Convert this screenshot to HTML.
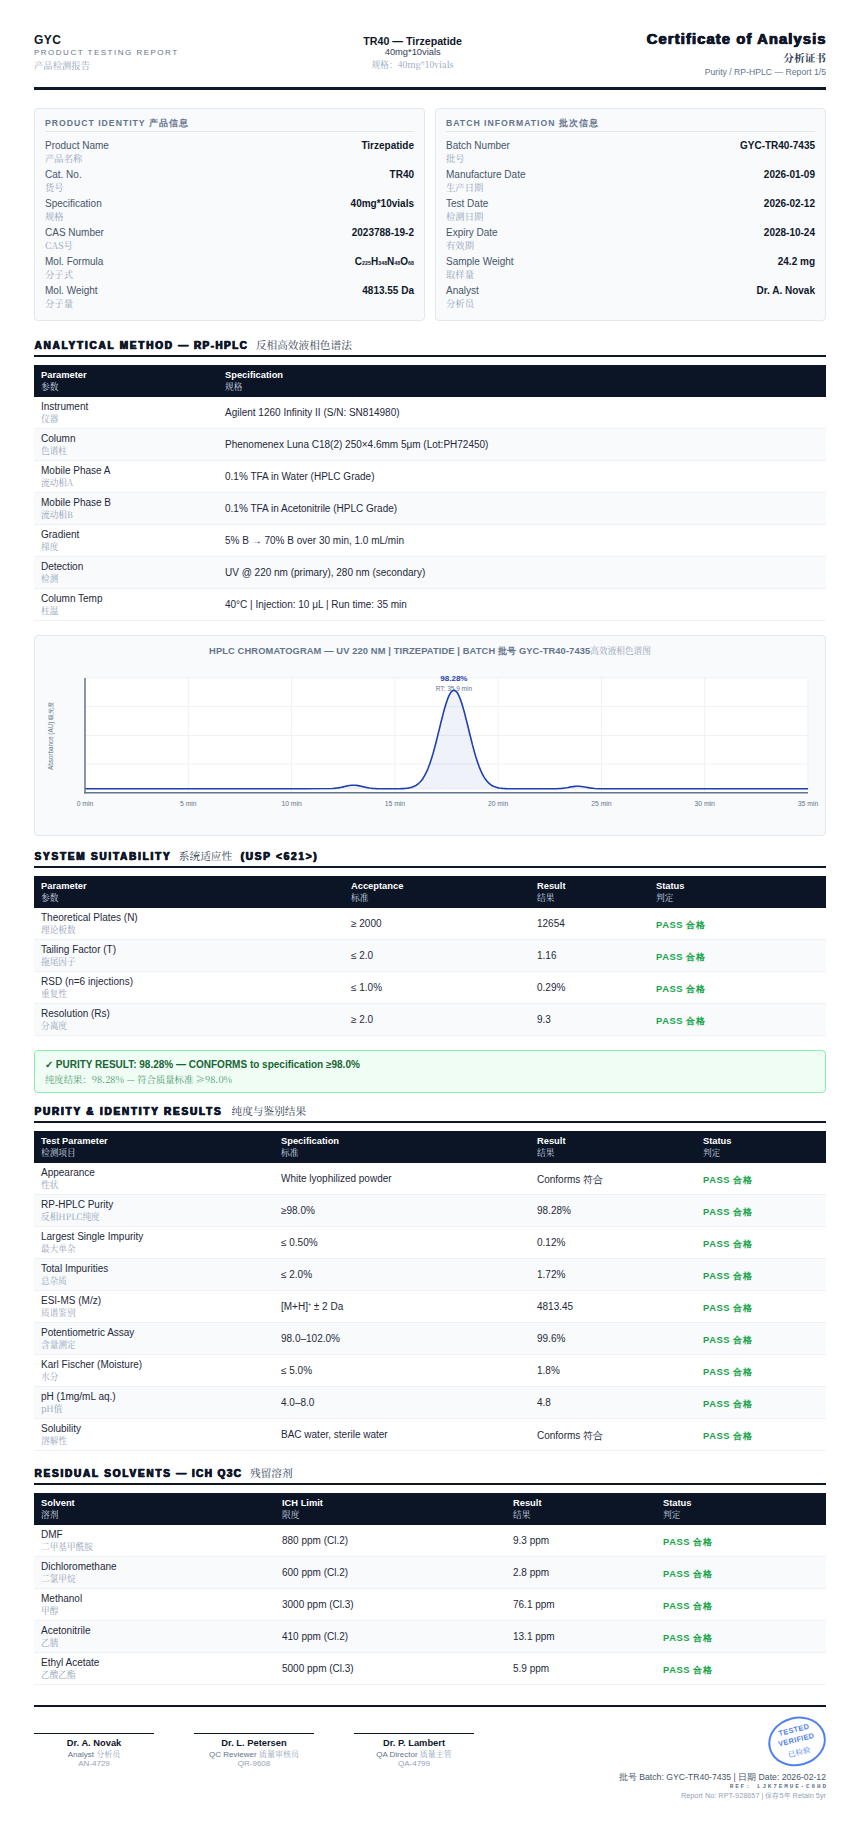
<!DOCTYPE html>
<html lang="en">
<head>
<meta charset="utf-8">
<title>Certificate of Analysis</title>
<style>
*{box-sizing:border-box;margin:0;padding:0}
html,body{width:860px;height:1828px;background:#fff;overflow:hidden}
body{position:relative;font-family:"Liberation Sans",sans-serif;color:#0f172a;font-size:10px;line-height:1.3}
.cn{font-family:"Noto Serif CJK SC","Noto Serif SC","Source Han Serif SC","Source Han Serif CN","Noto Serif CJK TC","Noto Serif CJK JP","Noto Serif CJK KR","Liberation Serif",serif}
.abs{position:absolute;left:34px;width:792px}
.hdr{top:30px;height:60px;display:flex;justify-content:space-between;align-items:flex-start;border-bottom:3px solid #0f172a}
.hdr .c{text-align:center;padding-top:5px}
.hdr .r{text-align:right}
.brand{font-size:12px;font-weight:700;letter-spacing:0.5px;line-height:15px;margin-top:3px;color:#0f172a}
.sub{font-size:8px;letter-spacing:1.5px;color:#64748b;line-height:10px}
.subcn{font-size:9.33px;color:#94a3b8;line-height:14px;margin-top:0}
.pname{font-size:10.67px;font-weight:700;line-height:13px}
.pspec{font-size:9.33px;color:#334155;line-height:10px;margin-top:-1px}
.pspeccn{font-size:8.67px;color:#94a3b8;line-height:14px;margin-top:0.4px}
.coa{font-size:14.67px;font-weight:700;line-height:17px;-webkit-text-stroke:0.5px #0f172a;text-shadow:0.45px 0 0 #0f172a,-0.45px 0 0 #0f172a;letter-spacing:1.15px;margin-right:-0.7px;padding-top:0.5px}
.coacn{font-size:10.67px;font-weight:700;color:#334155;line-height:15px;margin-top:2px}
.coasub{font-size:8.67px;color:#64748b;line-height:12px;margin-top:1px}
.cards{top:108px;height:213px;display:flex;gap:10px}
.card{flex:1;background:#f8fafc;border:1px solid #e2e8f0;border-radius:4px;padding:8px 10px 0 10px;height:213px}
.card h3{font-size:8.67px;font-weight:700;letter-spacing:1px;color:#64748b;text-transform:uppercase;border-bottom:1px solid #e2e8f0;padding-bottom:2px;line-height:12px;margin-bottom:6.6px}
.kv{display:flex;justify-content:space-between;height:29px}
.kv .k{font-size:10px;color:#475569;line-height:13px}
.kv .k .cn{display:block;font-size:9.33px;color:#94a3b8;line-height:12px}
.kv .v{font-size:10px;font-weight:700;color:#0f172a;line-height:13px}
.kv .v sub{font-size:5.33px;vertical-align:baseline;line-height:0}
h2{font-size:10px;font-weight:700;letter-spacing:1.78px;line-height:15px;height:20px;padding-left:0.6px;border-bottom:2px solid #0f172a;text-transform:uppercase;-webkit-text-stroke:0.4px #0f172a;text-shadow:0.45px 0 0 #0f172a,-0.45px 0 0 #0f172a;white-space:nowrap}
h2 .cn{font-weight:400;font-size:10.67px;letter-spacing:0;-webkit-text-stroke:0;text-shadow:none;color:#334155;margin-left:3px}
.dsh{letter-spacing:1.42px}
.usp{margin-left:4px}
table{border-collapse:collapse;table-layout:fixed}
th{background:#0b1526;color:#fff;text-align:left;font-size:9.33px;font-weight:700;padding:0 7px 1px 7px;height:32px;line-height:12px;vertical-align:middle}
th .cn{display:block;font-weight:400;font-size:8.67px;color:#cbd5e1;line-height:11px}
td{font-size:10px;padding:1.3px 7px 0 7px;height:32px;border-bottom:1px solid #eef2f6;vertical-align:middle;color:#1e293b;line-height:12px}
td .cn{display:block;font-size:8.67px;color:#94a3b8;line-height:11px;margin-top:0}
tr:nth-child(odd) td{background:#f8fafc}
tr:nth-child(2) td{height:31px;padding-top:1px}
td sup{font-size:5.33px;vertical-align:baseline;position:relative;top:-3.5px;line-height:0}
.dn{position:relative;top:1px}
.pass{color:#16a34a;font-weight:700;font-size:9.33px;letter-spacing:0.6px;position:relative;top:1px}
.chartcard{top:635px;height:201px;background:#f8fafc;border:1px solid #e2e8f0;border-radius:4px}
.ctitle{position:absolute;left:0;right:0;top:7.6px;text-align:center;font-size:9.33px;font-weight:700;color:#64748b;letter-spacing:0.11px;line-height:12px}
.ctitle .cn{font-weight:400;font-size:8.67px;color:#94a3b8;letter-spacing:0}
.chart{position:absolute;left:0;top:0;font-family:"Liberation Sans",sans-serif}
.result{top:1050px;height:43px;background:#f0fdf4;border:1px solid #86efac;border-radius:4px;padding:7px 10px}
.result .r1{font-size:10px;font-weight:700;color:#166534;line-height:13px}
.result .r2{font-size:9.33px;color:#4b9a70;line-height:14px;margin-top:1px}
.foot{top:1705px;border-top:2px solid #0f172a;height:120px}
.sigs{position:absolute;left:0;top:26px;display:flex;gap:40px}
.sig{width:120px;border-top:1px solid #0f172a;text-align:center;padding-top:2.8px}
.sn{font-size:9.33px;font-weight:700;line-height:12px}
.st{font-size:8px;color:#64748b;line-height:9.5px}
.st .cn{color:#94a3b8}
.si{font-size:8px;color:#94a3b8;line-height:9px}
.stamp{position:absolute;right:0.5px;top:10px;width:57.5px;height:48.5px;border:2px solid #2563eb;border-radius:50%;transform:rotate(-14deg);text-align:center;color:#2563eb;opacity:0.8;padding-top:5.7px;letter-spacing:0.4px}
.stamp .s1{font-size:7.33px;font-weight:700;line-height:10.8px}
.stamp .s2{font-size:7.33px;line-height:12px;margin-top:-0.3px;font-weight:500}
.fr{position:absolute;right:0;top:64px;text-align:right}
.f1{font-size:8.67px;color:#475569;line-height:12px}
.f2{font-family:"Liberation Mono",monospace;font-size:6px;font-weight:700;letter-spacing:1.85px;margin-right:-1.85px;color:#64748b;line-height:6px;margin-top:1px}
.f3{font-size:7.33px;color:#94a3b8;line-height:9px;margin-top:0.5px}
</style>
</head>
<body>
<div class="abs hdr">
  <div class="l"><div class="brand">GYC</div><div class="sub">PRODUCT TESTING REPORT</div><div class="subcn cn">产品检测报告</div></div>
  <div class="c"><div class="pname">TR40 — Tirzepatide</div><div class="pspec">40mg*10vials</div><div class="pspeccn cn">规格：40mg*10vials</div></div>
  <div class="r"><div class="coa">Certificate of Analysis</div><div class="coacn cn">分析证书</div><div class="coasub">Purity / RP-HPLC — Report 1/5</div></div>
</div>
<div class="abs cards"><div class="card"><h3>Product Identity 产品信息</h3><div class="kv"><div class="k">Product Name<span class="cn">产品名称</span></div><div class="v">Tirzepatide</div></div><div class="kv"><div class="k">Cat. No.<span class="cn">货号</span></div><div class="v">TR40</div></div><div class="kv"><div class="k">Specification<span class="cn">规格</span></div><div class="v">40mg*10vials</div></div><div class="kv"><div class="k">CAS Number<span class="cn">CAS号</span></div><div class="v">2023788-19-2</div></div><div class="kv"><div class="k">Mol. Formula<span class="cn">分子式</span></div><div class="v">C<sub>225</sub>H<sub>348</sub>N<sub>48</sub>O<sub>68</sub></div></div><div class="kv"><div class="k">Mol. Weight<span class="cn">分子量</span></div><div class="v">4813.55 Da</div></div></div><div class="card"><h3>Batch Information 批次信息</h3><div class="kv"><div class="k">Batch Number<span class="cn">批号</span></div><div class="v">GYC-TR40-7435</div></div><div class="kv"><div class="k">Manufacture Date<span class="cn">生产日期</span></div><div class="v">2026-01-09</div></div><div class="kv"><div class="k">Test Date<span class="cn">检测日期</span></div><div class="v">2026-02-12</div></div><div class="kv"><div class="k">Expiry Date<span class="cn">有效期</span></div><div class="v">2028-10-24</div></div><div class="kv"><div class="k">Sample Weight<span class="cn">取样量</span></div><div class="v">24.2 mg</div></div><div class="kv"><div class="k">Analyst<span class="cn">分析员</span></div><div class="v">Dr. A. Novak</div></div></div></div>
<h2 class="abs" style="top:337px">Analytical Method <span class="dsh">— RP-HPLC</span> <span class="cn">反相高效液相色谱法</span></h2>
<table id="t1" class="abs" style="top:365px"><colgroup><col style="width:184px"><col></colgroup>
<tr><th>Parameter<span class="cn">参数</span></th><th>Specification<span class="cn">规格</span></th></tr>
<tr><td>Instrument<span class="cn">仪器</span></td><td>Agilent 1260 Infinity II (S/N: SN814980)</td></tr>
<tr><td>Column<span class="cn">色谱柱</span></td><td>Phenomenex Luna C18(2) 250×4.6mm 5μm (Lot:PH72450)</td></tr>
<tr><td>Mobile Phase A<span class="cn">流动相A</span></td><td>0.1% TFA in Water (HPLC Grade)</td></tr>
<tr><td>Mobile Phase B<span class="cn">流动相B</span></td><td>0.1% TFA in Acetonitrile (HPLC Grade)</td></tr>
<tr><td>Gradient<span class="cn">梯度</span></td><td>5% B → 70% B over 30 min, 1.0 mL/min</td></tr>
<tr><td>Detection<span class="cn">检测</span></td><td>UV @ 220 nm (primary), 280 nm (secondary)</td></tr>
<tr><td>Column Temp<span class="cn">柱温</span></td><td>40°C | Injection: 10 μL | Run time: 35 min</td></tr>
</table>
<div class="abs chartcard"><div class="ctitle">HPLC CHROMATOGRAM — UV 220 NM | TIRZEPATIDE | BATCH 批号 GYC-TR40-7435<span class="cn">高效液相色谱图</span></div><svg class="chart" width="790" height="198" viewBox="0 0 790 198">
<rect x="50" y="42" width="723" height="114.8" fill="#fff"/>
<line x1="50" x2="773" y1="42.0" y2="42.0" stroke="#eef1f6"/>
<line x1="50" x2="773" y1="70.7" y2="70.7" stroke="#eef1f6"/>
<line x1="50" x2="773" y1="99.4" y2="99.4" stroke="#eef1f6"/>
<line x1="50" x2="773" y1="128.1" y2="128.1" stroke="#eef1f6"/>
<line x1="153.3" x2="153.3" y1="42" y2="156.8" stroke="#eef1f6"/>
<line x1="256.6" x2="256.6" y1="42" y2="156.8" stroke="#eef1f6"/>
<line x1="359.9" x2="359.9" y1="42" y2="156.8" stroke="#eef1f6"/>
<line x1="463.1" x2="463.1" y1="42" y2="156.8" stroke="#eef1f6"/>
<line x1="566.4" x2="566.4" y1="42" y2="156.8" stroke="#eef1f6"/>
<line x1="669.7" x2="669.7" y1="42" y2="156.8" stroke="#eef1f6"/>
<line x1="773.0" x2="773.0" y1="42" y2="156.8" stroke="#eef1f6"/>
<path d="M50.0,152.8 81.0,152.8 112.0,152.8 143.0,152.8 173.9,152.8 204.9,152.8 235.9,152.8 266.9,152.8 297.9,152.5 303.1,151.9 304.7,151.6 306.4,151.3 308.0,150.9 309.7,150.5 311.3,150.1 313.0,149.8 314.6,149.5 316.3,149.3 317.9,149.2 319.6,149.2 321.2,149.3 322.9,149.6 324.5,149.9 326.2,150.2 327.8,150.6 329.5,151.0 331.1,151.4 332.8,151.7 334.4,152.0 336.1,152.2 337.8,152.4 342.9,152.7 348.1,152.8 353.2,152.8 354.9,152.8 356.6,152.8 358.2,152.8 359.9,152.8 361.5,152.8 363.2,152.7 364.8,152.7 366.5,152.6 368.1,152.6 369.8,152.5 371.4,152.3 373.1,152.1 374.7,151.8 376.4,151.4 378.0,150.8 379.7,150.1 381.3,149.2 383.0,148.0 384.6,146.5 386.3,144.7 388.0,142.4 389.6,139.7 391.3,136.4 392.9,132.7 394.6,128.3 396.2,123.4 397.9,118.0 399.5,112.1 401.2,105.7 402.8,99.1 404.5,92.4 406.1,85.7 407.8,79.1 409.4,73.0 411.1,67.5 412.7,62.7 414.4,58.9 416.0,56.1 417.7,54.6 419.3,54.2 421.0,55.2 422.7,57.3 424.3,60.6 426.0,65.0 427.6,70.1 429.3,76.0 430.9,82.4 432.6,89.0 434.2,95.8 435.9,102.5 437.5,108.9 439.2,115.1 440.8,120.8 442.5,125.9 444.1,130.6 445.8,134.6 447.4,138.1 449.1,141.1 450.7,143.6 452.4,145.7 454.1,147.3 455.7,148.7 457.4,149.7 459.0,150.5 460.7,151.1 462.3,151.6 464.0,152.0 465.6,152.2 467.3,152.4 468.9,152.5 470.6,152.6 472.2,152.7 473.9,152.7 475.5,152.7 477.2,152.8 478.8,152.8 480.5,152.8 482.1,152.8 483.8,152.8 485.5,152.8 487.1,152.8 488.8,152.8 490.4,152.8 495.6,152.8 500.7,152.8 505.9,152.8 511.1,152.8 516.2,152.8 521.4,152.7 526.6,152.4 528.2,152.2 529.9,152.0 531.5,151.8 533.2,151.5 534.8,151.1 536.5,150.8 538.1,150.6 539.8,150.4 541.4,150.2 543.1,150.2 544.7,150.3 546.4,150.5 548.0,150.7 549.7,151.0 551.3,151.3 553.0,151.6 554.7,151.9 556.3,152.1 558.0,152.3 559.6,152.5 564.8,152.7 569.9,152.8 575.1,152.8 580.3,152.8 611.3,152.8 642.2,152.8 673.2,152.8 704.2,152.8 735.2,152.8 766.2,152.8 773.0,152.8 L773.0,152.8 L50.0,152.8Z" fill="#1e40af" fill-opacity="0.07"/>
<path d="M50.0,152.7 53.0,153.1 56.0,152.5 59.0,152.6 62.0,153.2 65.1,152.6 68.1,152.3 71.1,153.1 74.1,152.9 77.1,152.4 80.1,153.0 83.1,153.1 86.2,152.6 89.2,152.6 92.2,153.2 95.2,152.6 98.2,152.5 101.2,153.2 104.2,152.9 107.2,152.5 110.2,153.0 113.3,153.0 116.3,152.6 119.3,152.7 122.3,153.1 125.3,152.5 128.3,152.6 131.3,153.1 134.3,152.9 137.4,152.6 140.4,153.0 143.4,153.2 146.4,152.5 149.4,152.8 152.4,153.1 155.4,152.8 158.4,152.7 161.5,153.0 164.5,152.7 167.5,152.4 170.5,153.1 173.5,153.0 176.5,152.5 179.5,152.7 182.6,153.1 185.6,152.5 188.6,152.6 191.6,153.2 194.6,152.8 197.6,152.6 200.6,153.1 203.6,153.1 206.7,152.6 209.7,153.0 212.7,153.2 215.7,152.4 218.7,152.8 221.7,153.3 224.7,152.8 227.7,152.5 230.8,153.1 233.8,152.8 236.8,152.5 239.8,152.9 242.8,153.0 245.8,152.4 248.8,152.8 251.8,153.3 254.8,152.5 257.9,152.6 260.9,153.1 263.9,152.8 266.9,152.4 269.9,153.0 272.9,153.2 275.9,152.3 278.9,152.8 282.0,153.0 285.0,152.7 288.0,152.5 291.0,153.2 294.0,153.0 297.0,152.5 300.0,153.2 303.1,152.9 306.1,152.3 309.1,152.8 312.1,153.0 315.1,152.5 318.1,152.6 321.1,153.2 324.1,152.7 327.1,152.3 330.2,153.2 333.2,152.9 336.2,152.6 339.2,153.0 342.2,153.1 345.2,152.5 348.2,152.7 351.2,153.2 354.3,152.7 357.3,152.5 360.3,153.1 363.3,153.0 366.3,152.5 369.3,152.9 372.3,153.1 375.4,152.4 378.4,152.7 381.4,153.3 384.4,152.7 387.4,152.6 390.4,153.0 393.4,152.8 396.4,152.5 399.4,152.8 402.5,153.1 405.5,152.5 408.5,152.6 411.5,153.2 414.5,152.6 417.5,152.6 420.5,153.1 423.6,152.9 426.6,152.5 429.6,152.9 432.6,152.9 435.6,152.5 438.6,153.0 441.6,153.0 444.6,152.6 447.6,152.7 450.7,153.1 453.7,152.7 456.7,152.4 459.7,153.0 462.7,153.0 465.7,152.4 468.7,152.8 471.8,153.2 474.8,152.4 477.8,152.7 480.8,153.2 483.8,152.6 486.8,152.4 489.8,153.2 492.8,152.8 495.9,152.4 498.9,152.9 501.9,153.1 504.9,152.4 507.9,152.7 510.9,153.1 513.9,152.8 516.9,152.5 520.0,153.2 523.0,152.8 526.0,152.4 529.0,153.0 532.0,153.2 535.0,152.5 538.0,152.7 541.0,153.0 544.0,152.6 547.1,152.5 550.1,153.2 553.1,152.9 556.1,152.4 559.1,152.9 562.1,153.1 565.1,152.5 568.1,152.9 571.2,153.1 574.2,152.5 577.2,152.6 580.2,153.2 583.2,152.7 586.2,152.4 589.2,153.0 592.2,152.9 595.3,152.4 598.3,153.0 601.3,153.0 604.3,152.4 607.3,152.8 610.3,153.3 613.3,152.8 616.4,152.5 619.4,153.2 622.4,153.0 625.4,152.4 628.4,153.0 631.4,153.2 634.4,152.5 637.4,152.7 640.5,153.1 643.5,152.6 646.5,152.5 649.5,153.0 652.5,152.9 655.5,152.4 658.5,153.1 661.5,152.9 664.5,152.6 667.6,152.8 670.6,153.3 673.6,152.7 676.6,152.7 679.6,153.2 682.6,152.6 685.6,152.5 688.6,152.9 691.7,152.9 694.7,152.5 697.7,152.8 700.7,153.1 703.7,152.7 706.7,152.7 709.7,153.1 712.8,152.7 715.8,152.6 718.8,153.1 721.8,153.0 724.8,152.4 727.8,152.8 730.8,153.1 733.8,152.6 736.9,152.6 739.9,153.2 742.9,152.8 745.9,152.6 748.9,153.2 751.9,152.7 754.9,152.5 757.9,153.0 761.0,152.9 764.0,152.4 767.0,152.7 770.0,153.2 773.0,152.6" fill="none" stroke="#cbd5e1" stroke-width="0.5" opacity="0.8"/>
<text x="418.9" y="44.8" text-anchor="middle" font-size="8" font-weight="700" fill="#1e40af">98.28%</text>
<text x="418.9" y="54.6" text-anchor="middle" font-size="6.5" fill="#64748b">RT: 35.9 min</text>
<path d="M50.0,152.8 81.0,152.8 112.0,152.8 143.0,152.8 173.9,152.8 204.9,152.8 235.9,152.8 266.9,152.8 297.9,152.5 303.1,151.9 304.7,151.6 306.4,151.3 308.0,150.9 309.7,150.5 311.3,150.1 313.0,149.8 314.6,149.5 316.3,149.3 317.9,149.2 319.6,149.2 321.2,149.3 322.9,149.6 324.5,149.9 326.2,150.2 327.8,150.6 329.5,151.0 331.1,151.4 332.8,151.7 334.4,152.0 336.1,152.2 337.8,152.4 342.9,152.7 348.1,152.8 353.2,152.8 354.9,152.8 356.6,152.8 358.2,152.8 359.9,152.8 361.5,152.8 363.2,152.7 364.8,152.7 366.5,152.6 368.1,152.6 369.8,152.5 371.4,152.3 373.1,152.1 374.7,151.8 376.4,151.4 378.0,150.8 379.7,150.1 381.3,149.2 383.0,148.0 384.6,146.5 386.3,144.7 388.0,142.4 389.6,139.7 391.3,136.4 392.9,132.7 394.6,128.3 396.2,123.4 397.9,118.0 399.5,112.1 401.2,105.7 402.8,99.1 404.5,92.4 406.1,85.7 407.8,79.1 409.4,73.0 411.1,67.5 412.7,62.7 414.4,58.9 416.0,56.1 417.7,54.6 419.3,54.2 421.0,55.2 422.7,57.3 424.3,60.6 426.0,65.0 427.6,70.1 429.3,76.0 430.9,82.4 432.6,89.0 434.2,95.8 435.9,102.5 437.5,108.9 439.2,115.1 440.8,120.8 442.5,125.9 444.1,130.6 445.8,134.6 447.4,138.1 449.1,141.1 450.7,143.6 452.4,145.7 454.1,147.3 455.7,148.7 457.4,149.7 459.0,150.5 460.7,151.1 462.3,151.6 464.0,152.0 465.6,152.2 467.3,152.4 468.9,152.5 470.6,152.6 472.2,152.7 473.9,152.7 475.5,152.7 477.2,152.8 478.8,152.8 480.5,152.8 482.1,152.8 483.8,152.8 485.5,152.8 487.1,152.8 488.8,152.8 490.4,152.8 495.6,152.8 500.7,152.8 505.9,152.8 511.1,152.8 516.2,152.8 521.4,152.7 526.6,152.4 528.2,152.2 529.9,152.0 531.5,151.8 533.2,151.5 534.8,151.1 536.5,150.8 538.1,150.6 539.8,150.4 541.4,150.2 543.1,150.2 544.7,150.3 546.4,150.5 548.0,150.7 549.7,151.0 551.3,151.3 553.0,151.6 554.7,151.9 556.3,152.1 558.0,152.3 559.6,152.5 564.8,152.7 569.9,152.8 575.1,152.8 580.3,152.8 611.3,152.8 642.2,152.8 673.2,152.8 704.2,152.8 735.2,152.8 766.2,152.8 773.0,152.8" fill="none" stroke="#1e40af" stroke-width="1.6" stroke-linejoin="round"/>
<line x1="50" x2="50" y1="42" y2="157.6" stroke="#64748b" stroke-width="1.5"/>
<line x1="49.25" x2="773" y1="156.8" y2="156.8" stroke="#64748b" stroke-width="1.5"/>
<text x="50.0" y="169.6" text-anchor="middle" font-size="6.8" fill="#64748b">0 min</text>
<text x="153.3" y="169.6" text-anchor="middle" font-size="6.8" fill="#64748b">5 min</text>
<text x="256.6" y="169.6" text-anchor="middle" font-size="6.8" fill="#64748b">10 min</text>
<text x="359.9" y="169.6" text-anchor="middle" font-size="6.8" fill="#64748b">15 min</text>
<text x="463.1" y="169.6" text-anchor="middle" font-size="6.8" fill="#64748b">20 min</text>
<text x="566.4" y="169.6" text-anchor="middle" font-size="6.8" fill="#64748b">25 min</text>
<text x="669.7" y="169.6" text-anchor="middle" font-size="6.8" fill="#64748b">30 min</text>
<text x="773.0" y="169.6" text-anchor="middle" font-size="6.8" fill="#64748b">35 min</text>
<text transform="translate(18.4,100) rotate(-90)" text-anchor="middle" font-size="6.3" fill="#64748b">Absorbance (AU) 吸光度</text>
</svg></div>
<h2 class="abs" style="top:848px">System Suitability <span class="cn">系统适应性</span> <span class="usp">(USP &lt;621&gt;)</span></h2>
<table id="t2" class="abs" style="top:876px"><colgroup><col style="width:310px"><col style="width:186px"><col style="width:119px"><col></colgroup>
<tr><th>Parameter<span class="cn">参数</span></th><th>Acceptance<span class="cn">标准</span></th><th>Result<span class="cn">结果</span></th><th>Status<span class="cn">判定</span></th></tr>
<tr><td>Theoretical Plates (N)<span class="cn">理论板数</span></td><td>≥ 2000</td><td>12654</td><td><span class="pass">PASS 合格</span></td></tr>
<tr><td>Tailing Factor (T)<span class="cn">拖尾因子</span></td><td>≤ 2.0</td><td>1.16</td><td><span class="pass">PASS 合格</span></td></tr>
<tr><td>RSD (n=6 injections)<span class="cn">重复性</span></td><td>≤ 1.0%</td><td>0.29%</td><td><span class="pass">PASS 合格</span></td></tr>
<tr><td>Resolution (Rs)<span class="cn">分离度</span></td><td>≥ 2.0</td><td>9.3</td><td><span class="pass">PASS 合格</span></td></tr>
</table>
<div class="abs result"><div class="r1">✓ PURITY RESULT: 98.28% — CONFORMS to specification ≥98.0%</div><div class="r2 cn">纯度结果：98.28% — 符合质量标准 ≥98.0%</div></div>
<h2 class="abs" style="top:1103px">Purity &amp; Identity Results <span class="cn" style="margin-left:4.5px">纯度与鉴别结果</span></h2>
<table id="t3" class="abs" style="top:1131px"><colgroup><col style="width:240px"><col style="width:256px"><col style="width:166px"><col></colgroup>
<tr><th>Test Parameter<span class="cn">检测项目</span></th><th>Specification<span class="cn">标准</span></th><th>Result<span class="cn">结果</span></th><th>Status<span class="cn">判定</span></th></tr>
<tr><td>Appearance<span class="cn">性状</span></td><td>White lyophilized powder</td><td><span class="dn">Conforms 符合</span></td><td><span class="pass">PASS 合格</span></td></tr>
<tr><td>RP-HPLC Purity<span class="cn">反相HPLC纯度</span></td><td>≥98.0%</td><td>98.28%</td><td><span class="pass">PASS 合格</span></td></tr>
<tr><td>Largest Single Impurity<span class="cn">最大单杂</span></td><td>≤ 0.50%</td><td>0.12%</td><td><span class="pass">PASS 合格</span></td></tr>
<tr><td>Total Impurities<span class="cn">总杂质</span></td><td>≤ 2.0%</td><td>1.72%</td><td><span class="pass">PASS 合格</span></td></tr>
<tr><td>ESI-MS (M/z)<span class="cn">质谱鉴别</span></td><td>[M+H]<sup>+</sup> ± 2 Da</td><td>4813.45</td><td><span class="pass">PASS 合格</span></td></tr>
<tr><td>Potentiometric Assay<span class="cn">含量测定</span></td><td>98.0–102.0%</td><td>99.6%</td><td><span class="pass">PASS 合格</span></td></tr>
<tr><td>Karl Fischer (Moisture)<span class="cn">水分</span></td><td>≤ 5.0%</td><td>1.8%</td><td><span class="pass">PASS 合格</span></td></tr>
<tr><td>pH (1mg/mL aq.)<span class="cn">pH值</span></td><td>4.0–8.0</td><td>4.8</td><td><span class="pass">PASS 合格</span></td></tr>
<tr><td>Solubility<span class="cn">溶解性</span></td><td>BAC water, sterile water</td><td><span class="dn">Conforms 符合</span></td><td><span class="pass">PASS 合格</span></td></tr>
</table>
<h2 class="abs" style="top:1465px">Residual Solvents <span class="dsh">— ICH Q3C</span> <span class="cn">残留溶剂</span></h2>
<table id="t4" class="abs" style="top:1493px"><colgroup><col style="width:241px"><col style="width:231px"><col style="width:150px"><col></colgroup>
<tr><th>Solvent<span class="cn">溶剂</span></th><th>ICH Limit<span class="cn">限度</span></th><th>Result<span class="cn">结果</span></th><th>Status<span class="cn">判定</span></th></tr>
<tr><td>DMF<span class="cn">二甲基甲酰胺</span></td><td>880 ppm (Cl.2)</td><td>9.3 ppm</td><td><span class="pass">PASS 合格</span></td></tr>
<tr><td>Dichloromethane<span class="cn">二氯甲烷</span></td><td>600 ppm (Cl.2)</td><td>2.8 ppm</td><td><span class="pass">PASS 合格</span></td></tr>
<tr><td>Methanol<span class="cn">甲醇</span></td><td>3000 ppm (Cl.3)</td><td>76.1 ppm</td><td><span class="pass">PASS 合格</span></td></tr>
<tr><td>Acetonitrile<span class="cn">乙腈</span></td><td>410 ppm (Cl.2)</td><td>13.1 ppm</td><td><span class="pass">PASS 合格</span></td></tr>
<tr><td>Ethyl Acetate<span class="cn">乙酸乙酯</span></td><td>5000 ppm (Cl.3)</td><td>5.9 ppm</td><td><span class="pass">PASS 合格</span></td></tr>
</table>
<div class="abs foot">
  <div class="sigs">
    <div class="sig"><div class="sn">Dr. A. Novak</div><div class="st">Analyst <span class="cn">分析员</span></div><div class="si">AN-4729</div></div>
    <div class="sig"><div class="sn">Dr. L. Petersen</div><div class="st">QC Reviewer <span class="cn">质量审核员</span></div><div class="si">QR-9608</div></div>
    <div class="sig"><div class="sn">Dr. P. Lambert</div><div class="st">QA Director <span class="cn">质量主管</span></div><div class="si">QA-4799</div></div>
  </div>
  <div class="stamp"><div class="s1">TESTED</div><div class="s1">VERIFIED</div><div class="s2 cn">已检验</div></div>
  <div class="fr">
    <div class="f1">批号 Batch: GYC-TR40-7435 | 日期 Date: 2026-02-12</div>
    <div class="f2">REF: LJK7EMUE-C6HD</div>
    <div class="f3">Report No: RPT-928657 | 保存5年 Retain 5yr</div>
  </div>
</div>
</body>
</html>
